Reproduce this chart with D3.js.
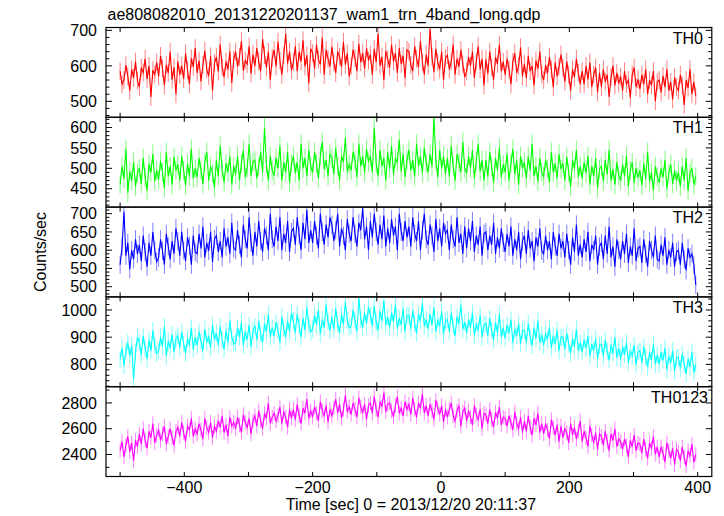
<!DOCTYPE html>
<html>
<head>
<meta charset="utf-8">
<script src="https://cdn.jsdelivr.net/npm/d3@7"></script>
<style>
  html, body { margin: 0; padding: 0; background: #fff; }
  svg { display: block; font-family: "Liberation Sans", Arial, Helvetica, sans-serif; }
</style>
</head>
<body>
<svg id="chart" width="724" height="516"></svg>
<script>
// ---- data ----
const titleText = "ae808082010_20131220201137_wam1_trn_4band_long.qdp";
const xLabelText = "Time [sec] 0 = 2013/12/20 20:11:37";
const yLabelText = "Counts/sec";
const bandNames = ["TH0", "TH1", "TH2", "TH3", "TH0123"];
const bandColors = ["#ff0000", "#00ff00", "#0000ff", "#00ffff", "#ff00ff"];
const xTickLabels = [-400, -200, 0, 200, 400];
const timeStart = -500, timeStep = 3;   // bin centres [sec]
const bandErrors = [25, 23, 25, 31, 56]; // typical 1-sigma error per bin

const th0 = [
585,548,560,602,571,530,590,566,612,558,
540,595,581,620,563,600,512,588,575,610,
570,628,592,545,603,580,640,561,596,520,
612,575,600,563,635,588,548,621,597,650,
580,615,556,602,642,590,571,627,530,608,
625,584,660,596,568,612,590,640,552,618,
640,598,625,670,586,615,605,655,578,632,
600,650,612,584,676,630,595,640,560,622,
645,598,668,615,575,630,690,606,640,588,
610,655,585,640,612,672,598,630,550,648,
636,592,660,618,604,680,575,645,620,598,
654,610,580,640,625,596,668,603,635,570,
600,645,622,585,662,610,636,592,650,615,
632,575,648,610,690,600,625,560,642,618,
595,660,612,636,580,650,605,628,566,645,
640,602,585,655,620,596,670,610,575,632,
600,705,625,582,648,610,590,640,560,622,
630,590,612,660,575,620,598,645,605,568,
585,625,600,640,566,612,655,590,620,545,
618,578,640,596,560,625,605,660,585,612,
575,620,590,548,612,635,580,600,652,570,
606,566,628,585,600,545,615,592,640,575,
560,602,578,625,590,540,610,570,598,632,
595,555,612,575,530,590,568,620,580,548,
585,548,600,562,610,540,575,595,525,580,
540,590,555,575,512,568,600,545,580,550,
570,530,585,548,560,510,575,595,540,562,
535,575,548,590,520,560,545,585,500,555,
560,525,572,540,590,530,555,505,568,540,
530,575,545,490,560,538,590,520,555,515];

const th1 = [
460,505,475,548,440,492,470,515,455,488,
500,462,525,478,445,510,490,535,468,495,
472,518,490,452,540,480,505,460,528,495,
510,470,530,495,458,512,480,548,475,500,
478,525,496,462,515,540,470,505,488,452,
520,480,555,498,466,512,490,530,460,505,
485,530,470,512,545,478,500,560,482,515,
520,475,505,540,490,600,510,470,530,495,
482,525,500,555,470,515,490,540,465,512,
530,488,515,470,560,500,525,480,545,505,
490,540,512,475,530,565,498,520,480,535,
525,485,550,505,470,530,515,575,492,510,
495,540,520,478,560,505,530,490,548,515,
530,490,600,512,480,545,505,525,470,540,
500,555,485,525,515,570,492,535,478,520,
545,495,520,480,560,505,530,488,550,512,
490,535,505,625,520,478,545,500,530,485,
525,480,555,505,470,535,515,490,565,500,
488,530,500,545,475,518,560,492,520,470,
520,480,540,505,465,525,495,550,478,510,
490,535,470,512,548,485,520,460,530,500,
515,475,530,495,560,482,505,468,525,490,
480,520,500,465,540,490,512,475,535,498,
512,470,528,490,455,520,500,545,478,505,
475,515,488,530,460,505,480,525,452,498,
505,468,520,485,545,470,498,460,515,482,
470,510,480,530,455,495,515,465,500,478,
495,458,512,475,540,468,490,445,505,480,
465,500,478,520,450,488,510,462,495,470,
490,455,505,470,525,445,488,500,460,480];

const th2 = [
560,610,705,585,620,548,600,575,630,590,
615,570,640,595,555,620,585,650,600,568,
580,630,598,560,645,610,575,625,590,660,
625,585,650,600,570,635,612,560,640,595,
590,645,605,665,580,620,598,650,568,630,
640,595,625,580,660,610,635,590,675,605,
600,655,615,580,670,630,605,690,620,585,
650,610,680,625,595,660,640,600,700,630,
610,665,625,690,600,645,620,680,595,650,
660,615,690,640,600,675,630,710,620,655,
620,680,640,605,700,650,615,670,635,690,
670,625,655,700,610,660,640,600,685,645,
625,690,645,610,675,655,715,630,665,600,
680,635,700,650,615,670,630,695,610,660,
620,685,640,665,600,700,650,625,680,635,
665,610,690,645,625,680,600,655,700,630,
615,670,640,595,685,625,660,610,675,645,
655,600,670,630,610,690,620,645,590,665,
605,660,625,680,595,640,615,665,585,645,
650,600,640,615,675,590,635,605,660,620,
595,645,610,665,585,630,600,650,575,625,
640,590,655,605,625,570,635,610,660,598,
590,640,600,625,575,650,610,585,645,605,
625,580,645,600,560,635,595,670,585,615,
580,630,595,650,570,615,600,640,560,610,
620,575,640,590,665,580,610,555,630,600,
575,625,590,645,565,610,585,660,570,605,
610,565,630,590,555,625,600,580,640,575,
570,615,585,635,560,600,580,620,555,595,
600,560,620,575,545,605,580,590,560,505];

const th3 = [
820,860,795,850,880,830,870,745,845,900,
880,835,905,860,820,890,850,925,870,840,
850,900,865,940,830,885,860,910,845,895,
905,860,920,875,840,895,870,935,855,900,
870,920,885,850,930,880,905,860,945,890,
915,870,940,890,855,925,880,960,900,875,
880,935,900,955,870,920,890,945,865,925,
940,890,960,910,880,950,920,985,900,935,
905,955,925,880,975,930,900,960,920,990,
960,915,985,940,900,970,925,1010,945,920,
930,980,945,1000,910,965,935,1020,955,925,
975,930,1005,950,915,985,945,1030,960,935,
940,1000,960,920,1045,965,935,990,950,1010,
985,940,1015,955,925,995,960,1035,945,975,
935,990,955,1020,930,970,945,1005,920,980,
980,930,1000,950,915,985,960,1025,940,965,
930,985,945,1010,920,965,940,995,910,960,
965,920,990,940,905,975,950,1020,930,955,
915,965,935,990,905,950,925,980,900,945,
950,905,970,925,890,955,915,985,900,935,
895,945,915,965,880,930,905,950,875,925,
925,880,950,900,870,935,895,960,880,910,
870,915,890,935,860,905,875,925,850,900,
900,855,915,875,840,895,865,930,850,880,
845,890,860,905,830,875,850,895,820,870,
875,830,890,850,815,870,840,900,825,860,
820,865,835,880,805,850,830,870,800,845,
850,805,865,825,790,845,815,875,800,835,
800,845,815,860,780,830,805,850,775,825,
825,785,840,800,765,820,790,845,770,800];

const th0123 = [
2430,2500,2380,2470,2540,2420,2490,2350,2510,2460,
2560,2480,2600,2510,2450,2580,2530,2640,2490,2550,
2590,2510,2560,2620,2480,2540,2600,2530,2470,2580,
2610,2540,2650,2570,2500,2620,2590,2680,2540,2600,
2560,2640,2590,2520,2680,2610,2570,2650,2530,2620,
2580,2660,2610,2700,2570,2630,2540,2690,2620,2650,
2600,2690,2630,2570,2710,2650,2610,2680,2560,2660,
2700,2620,2740,2660,2600,2720,2680,2800,2640,2690,
2720,2660,2700,2770,2640,2730,2690,2610,2750,2680,
2750,2670,2790,2700,2640,2760,2720,2830,2680,2740,
2690,2770,2720,2660,2810,2740,2700,2780,2650,2750,
2700,2760,2830,2720,2790,2680,2750,2860,2730,2770,
2710,2800,2750,2690,2840,2770,2720,2790,2670,2780,
2800,2720,2850,2750,2690,2810,2770,2880,2730,2790,
2800,2740,2690,2780,2850,2720,2760,2700,2810,2750,
2790,2710,2840,2750,2690,2800,2760,2870,2720,2780,
2700,2790,2740,2670,2820,2760,2710,2780,2650,2750,
2690,2750,2800,2700,2660,2740,2780,2620,2730,2760,
2660,2740,2690,2630,2780,2710,2670,2750,2600,2720,
2710,2640,2750,2670,2610,2730,2680,2770,2630,2690,
2680,2620,2700,2650,2590,2730,2640,2600,2690,2570,
2660,2580,2700,2610,2550,2680,2630,2720,2570,2640,
2560,2640,2590,2520,2670,2610,2550,2630,2500,2620,
2530,2600,2570,2490,2640,2550,2610,2520,2580,2660,
2500,2580,2530,2460,2620,2550,2490,2570,2440,2560,
2540,2470,2580,2500,2430,2560,2510,2600,2460,2520,
2500,2440,2520,2470,2380,2510,2460,2550,2430,2490,
2480,2410,2520,2440,2370,2490,2450,2540,2400,2460,
2380,2460,2410,2340,2490,2430,2370,2450,2320,2440,
2420,2350,2460,2380,2310,2430,2390,2480,2340,2400];

const bandValues = [th0, th1, th2, th3, th0123];
const yDomains = [[455, 708], [405, 625], [472, 718], [718, 1048], [2229, 2926]];
const yMajorSteps = [100, 50, 50, 100, 200];
const yMinorSteps = [20, 10, 10, 20, 100];

// ---- layout ----
(function () {
const svg = d3.select("#chart");
const pLeft = 106, pRight = 711.8, pTop0 = 27.5, pBottom = 476.5;
const nP = bandNames.length;
const ph = (pBottom - pTop0) / nP;
const fs = 16;

const x = d3.scaleLinear().domain([-522, 422]).range([pLeft, pRight]);
const xMinorTicks = d3.range(-500, 401, 100);

svg.append("text").attr("x", 107.5).attr("y", 20)
  .attr("font-size", fs).attr("fill", "#000").text(titleText);

bandNames.forEach((name, i) => {
  const pTop = pTop0 + i * ph, pBot = pTop + ph;
  const y = d3.scaleLinear().domain(yDomains[i]).range([pBot, pTop]);
  const g = svg.append("g");
  const vals = bandValues[i];
  const pts = vals.map((v, k) => ({ t: timeStart + k * timeStep, v: v }));
  const clipId = "clip" + i;
  svg.append("clipPath").attr("id", clipId).append("rect")
    .attr("x", pLeft).attr("y", pTop).attr("width", pRight - pLeft).attr("height", ph);
  const dg = g.append("g").attr("clip-path", `url(#${clipId})`);
  // error bars
  dg.selectAll("line.err").data(pts).enter().append("line")
    .attr("x1", d => x(d.t)).attr("x2", d => x(d.t))
    .attr("y1", d => y(d.v - bandErrors[i])).attr("y2", d => y(d.v + bandErrors[i]))
    .attr("stroke", bandColors[i]).attr("stroke-opacity", 0.5).attr("stroke-width", 1);
  // line
  dg.append("path").datum(pts)
    .attr("d", d3.line().x(d => x(d.t)).y(d => y(d.v)))
    .attr("fill", "none").attr("stroke", bandColors[i]).attr("stroke-width", 1.1);

  // frame
  g.append("rect").attr("x", pLeft).attr("y", pTop).attr("width", pRight - pLeft).attr("height", ph)
    .attr("fill", "none").attr("stroke", "#000").attr("stroke-width", 1.2);

  // y ticks
  const [y0, y1] = yDomains[i];
  const minor = d3.range(Math.ceil(y0 / yMinorSteps[i]) * yMinorSteps[i], y1 + 0.001, yMinorSteps[i]);
  minor.forEach(v => {
    const isMajor = Math.abs(v / yMajorSteps[i] - Math.round(v / yMajorSteps[i])) < 1e-6;
    const len = isMajor ? 6 : 3.5;
    const yy = y(v);
    g.append("line").attr("x1", pLeft).attr("x2", pLeft + len).attr("y1", yy).attr("y2", yy)
      .attr("stroke", "#000").attr("stroke-width", 1);
    g.append("line").attr("x1", pRight).attr("x2", pRight - len).attr("y1", yy).attr("y2", yy)
      .attr("stroke", "#000").attr("stroke-width", 1);
    if (isMajor) {
      g.append("text").attr("x", 97).attr("y", yy).attr("dy", "0.36em")
        .attr("text-anchor", "end").attr("font-size", fs).attr("fill", "#000").text(v);
    }
  });
  // x ticks
  xMinorTicks.forEach(t => {
    const xx = x(t);
    g.append("line").attr("x1", xx).attr("x2", xx).attr("y1", pTop).attr("y2", pTop + 4.5)
      .attr("stroke", "#000").attr("stroke-width", 1);
    g.append("line").attr("x1", xx).attr("x2", xx).attr("y1", pBot).attr("y2", pBot - 4.5)
      .attr("stroke", "#000").attr("stroke-width", 1);
  });
  // band label
  const labelRight = name.length > 3 ? 708 : 703;
  g.append("text").attr("x", labelRight).attr("y", pTop + 16)
    .attr("text-anchor", "end").attr("font-size", fs).attr("fill", "#000").text(name);
});

// x tick labels
xTickLabels.forEach(t => {
  svg.append("text").attr("x", x(t)).attr("y", 493)
    .attr("text-anchor", "middle").attr("font-size", fs).attr("fill", "#000")
    .text(t < 0 ? "\u2212" + Math.abs(t) : String(t));
});
svg.append("text").attr("x", (pLeft + pRight) / 2 + 2).attr("y", 510)
  .attr("text-anchor", "middle").attr("font-size", fs).attr("fill", "#000").text(xLabelText);
svg.append("text").attr("transform", `translate(46,${(pTop0 + pBottom) / 2}) rotate(-90)`)
  .attr("text-anchor", "middle").attr("font-size", fs).attr("fill", "#000").text(yLabelText);
})();
</script>
</body>
</html>
